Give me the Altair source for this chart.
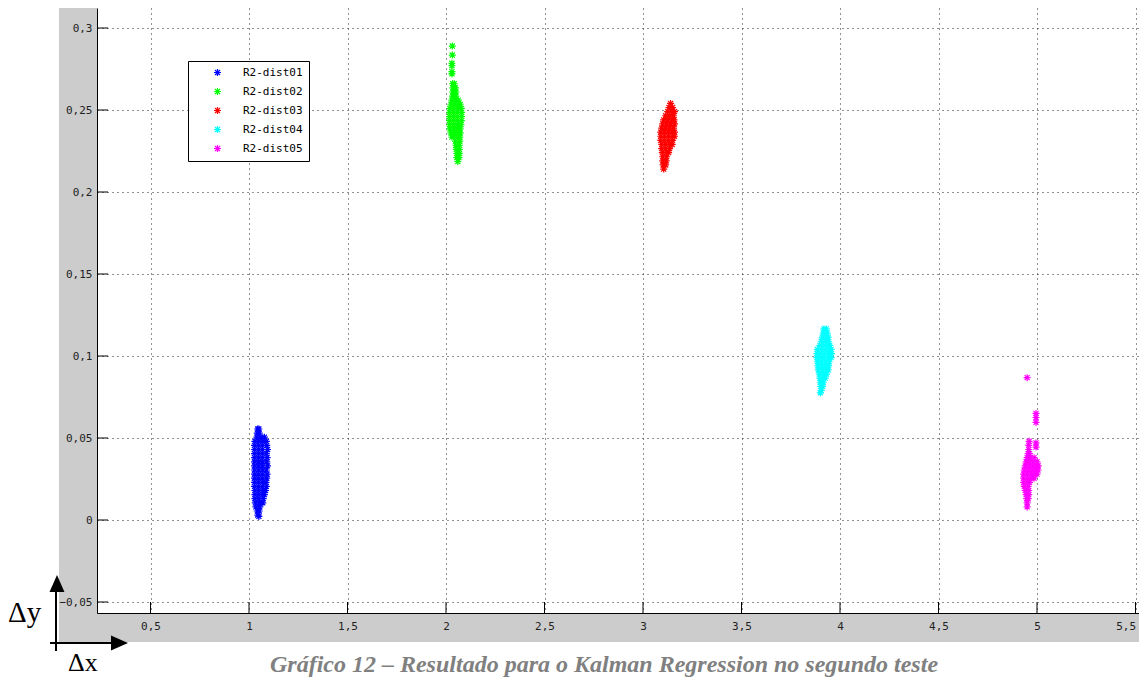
import altair as alt
import pandas as pd

SERIES = ["R2-dist01", "R2-dist02", "R2-dist03", "R2-dist04", "R2-dist05"]
COLORS = ["#0000ff", "#00ff00", "#ff0000", "#00ffff", "#ff00ff"]

X_TICKS = [0.5, 1, 1.5, 2, 2.5, 3, 3.5, 4, 4.5, 5, 5.5]
Y_TICKS = [-0.05, 0, 0.05, 0.1, 0.15, 0.2, 0.25, 0.3]

# rows of (y, [x values])
BLUE = [
    (0.0555, [1.044, 1.050]), (0.0530, [1.042, 1.052]), (0.0505, [1.040, 1.060, 1.078]),
    (0.0480, [1.030, 1.050, 1.070, 1.088]), (0.0455, [1.028, 1.048, 1.068, 1.090]),
    (0.0430, [1.028, 1.048, 1.068, 1.094]), (0.0405, [1.028, 1.048, 1.068, 1.088]),
    (0.0380, [1.028, 1.048, 1.068, 1.092]), (0.0355, [1.028, 1.048, 1.068, 1.090]),
    (0.0330, [1.028, 1.048, 1.068, 1.094]), (0.0305, [1.028, 1.048, 1.068, 1.088]),
    (0.0280, [1.028, 1.048, 1.068, 1.092]), (0.0255, [1.028, 1.048, 1.068, 1.090]),
    (0.0230, [1.028, 1.048, 1.068, 1.086]), (0.0205, [1.028, 1.048, 1.068, 1.088]),
    (0.0180, [1.030, 1.050, 1.070, 1.084]), (0.0155, [1.030, 1.050, 1.070, 1.078]),
    (0.0130, [1.030, 1.050, 1.072]), (0.0105, [1.032, 1.052, 1.070]),
    (0.0080, [1.035, 1.055]), (0.0055, [1.042, 1.052]), (0.0030, [1.045]), (0.0022, [1.050]),
]
GREEN = [
    (0.2890, [2.032]), (0.2835, [2.032]), (0.2785, [2.030]), (0.2770, [2.030]),
    (0.2734, [2.030]), (0.2720, [2.030]),
    (0.2660, [2.034, 2.042]), (0.2635, [2.035, 2.048]), (0.2610, [2.035, 2.050]),
    (0.2585, [2.033, 2.050]), (0.2560, [2.030, 2.050, 2.062]),
    (0.2535, [2.025, 2.045, 2.065, 2.072]), (0.2510, [2.020, 2.040, 2.060, 2.078]),
    (0.2485, [2.018, 2.038, 2.058, 2.079]), (0.2460, [2.018, 2.038, 2.058, 2.079]),
    (0.2435, [2.018, 2.038, 2.058, 2.078]), (0.2410, [2.018, 2.038, 2.058, 2.076]),
    (0.2385, [2.020, 2.040, 2.060, 2.072]), (0.2360, [2.025, 2.045, 2.065, 2.072]),
    (0.2335, [2.030, 2.050, 2.070]), (0.2310, [2.048, 2.070]), (0.2285, [2.050, 2.068]),
    (0.2260, [2.052, 2.068]), (0.2235, [2.055, 2.068]), (0.2210, [2.055, 2.066]),
    (0.2185, [2.060]),
]
RED = [
    (0.2540, [3.140]), (0.2515, [3.132, 3.150]), (0.2490, [3.125, 3.145, 3.160]),
    (0.2465, [3.115, 3.135, 3.155]), (0.2440, [3.105, 3.125, 3.145, 3.158]),
    (0.2415, [3.100, 3.120, 3.140, 3.160]), (0.2390, [3.095, 3.115, 3.135, 3.155]),
    (0.2365, [3.090, 3.110, 3.130, 3.150, 3.160]), (0.2340, [3.090, 3.110, 3.130, 3.150, 3.160]),
    (0.2315, [3.090, 3.110, 3.130, 3.150]), (0.2290, [3.095, 3.115, 3.135, 3.148]),
    (0.2265, [3.095, 3.115, 3.135]), (0.2240, [3.098, 3.118, 3.130]),
    (0.2215, [3.100, 3.120]), (0.2190, [3.100, 3.118]), (0.2165, [3.102, 3.115]),
    (0.2140, [3.105]),
]
CYAN = [
    (0.1165, [3.918, 3.930]), (0.1140, [3.915, 3.935]), (0.1115, [3.910, 3.930, 3.940]),
    (0.1090, [3.905, 3.925, 3.942]), (0.1065, [3.898, 3.918, 3.938, 3.948]),
    (0.1040, [3.885, 3.905, 3.925, 3.945, 3.955]), (0.1015, [3.883, 3.903, 3.923, 3.943, 3.957]),
    (0.0990, [3.883, 3.903, 3.923, 3.943, 3.955]), (0.0965, [3.885, 3.905, 3.925, 3.945]),
    (0.0940, [3.888, 3.908, 3.928, 3.942]), (0.0915, [3.890, 3.910, 3.930, 3.940]),
    (0.0890, [3.895, 3.915, 3.932]), (0.0865, [3.898, 3.915, 3.925]),
    (0.0840, [3.900, 3.915]), (0.0815, [3.902, 3.912]), (0.0790, [3.905]), (0.0775, [3.900]),
]
MAGENTA = [
    (0.0868, [4.950]), (0.0650, [4.995]), (0.0625, [4.995]), (0.0595, [4.995]),
    (0.0470, [4.995]), (0.0445, [4.995]),
    (0.0480, [4.960]), (0.0455, [4.958]), (0.0430, [4.958]), (0.0405, [4.955, 4.962]),
    (0.0380, [4.950, 4.965, 4.985]), (0.0355, [4.945, 4.962, 4.980, 5.000]),
    (0.0330, [4.940, 4.960, 4.980, 5.000, 5.006]), (0.0305, [4.935, 4.955, 4.975, 4.995, 5.005]),
    (0.0280, [4.932, 4.952, 4.972, 4.990, 5.000]), (0.0255, [4.932, 4.952, 4.970, 4.985]),
    (0.0230, [4.932, 4.950, 4.962]), (0.0205, [4.935, 4.955]), (0.0180, [4.940, 4.958]),
    (0.0155, [4.945, 4.958]), (0.0130, [4.948, 4.955]), (0.0105, [4.950]), (0.0080, [4.950]),
]

CAPTION = "Gráfico 12 – Resultado para o Kalman Regression no segundo teste"

rows = []
for name, cluster in zip(SERIES, [BLUE, GREEN, RED, CYAN, MAGENTA]):
    for yv, xs in cluster:
        for xv in xs:
            rows.append({"x": xv, "y": yv, "series": name})
df = pd.DataFrame(rows)

W, H = 1042, 605
AST = "M-1,0L1,0M0,-1L0,1M-0.72,-0.72L0.72,0.72M-0.72,0.72L0.72,-0.72"
MONO = "DejaVu Sans Mono"

xscale = alt.Scale(domain=[0.2284, 0.2284 + W / 197.0], nice=False, zero=False)
yscale = alt.Scale(domain=[-0.0567, 0.3122], nice=False, zero=False)

points = alt.Chart(df).mark_point(
    shape=AST, filled=False, size=49, strokeWidth=1.2, opacity=1
).encode(
    x=alt.X("x:Q", scale=xscale, axis=alt.Axis(
        values=X_TICKS, format=".1~f", labelExpr="replace(datum.label, '.', ',')",
        grid=True, gridDash=[1, 4], gridColor="#222222", gridWidth=1,
        ticks=False, domainColor="black", domainWidth=1, title=None,
        labelFont=MONO, labelFontSize=11, labelColor="#222222", labelPadding=7,
        labelFlush=5, labelOverlap=False)),
    y=alt.Y("y:Q", scale=yscale, axis=alt.Axis(
        values=Y_TICKS, format=".2~f", labelExpr="replace(datum.label, '.', ',')",
        grid=True, gridDash=[1, 4], gridColor="#222222", gridWidth=1,
        ticks=False, domainColor="black", domainWidth=1, title=None,
        labelFont=MONO, labelFontSize=11, labelColor="#222222", labelPadding=5,
        labelFlush=False, labelOverlap=False)),
    color=alt.Color("series:N", scale=alt.Scale(domain=SERIES, range=COLORS), legend=alt.Legend(
        orient="none", legendX=91, legendY=53, title=None, symbolType=AST, symbolSize=49,
        symbolStrokeWidth=1.2, labelFont=MONO, labelFontSize=11, labelColor="black",
        padding=6, strokeColor="black", fillColor="white", symbolOffset=18, labelOffset=20,
        rowPadding=6)),
)

ytick_df = pd.DataFrame({"y": Y_TICKS})
xtick_df = pd.DataFrame({"x": X_TICKS})
yticks = alt.Chart(ytick_df).mark_rule(color="black", strokeWidth=1).encode(
    y=alt.Y("y:Q", scale=yscale), x=alt.value(0), x2=alt.value(11))
xticks = alt.Chart(xtick_df).mark_rule(color="black", strokeWidth=1).encode(
    x=alt.X("x:Q", scale=xscale), y=alt.value(H), y2=alt.value(H - 11))

one = alt.Data(values=[{"a": 1}])
white_left = alt.Chart(one).mark_rect(color="white").encode(
    x=alt.value(-89), x2=alt.value(-38), y=alt.value(0), y2=alt.value(634))
white_bottom = alt.Chart(one).mark_rect(color="white").encode(
    x=alt.value(-89), x2=alt.value(W), y=alt.value(634), y2=alt.value(680))

caption = alt.Chart(one).mark_text(
    font="Liberation Serif", fontStyle="italic", fontWeight="bold", fontSize=24,
    color="#808080", align="center", baseline="alphabetic"
).encode(x=alt.value(507), y=alt.value(664), text=alt.value(CAPTION))

dy_text = alt.Chart(one).mark_text(
    font="Liberation Serif", fontSize=29, color="black", align="left", baseline="alphabetic"
).encode(x=alt.value(-89), y=alt.value(614), text=alt.value("Δy"))
dx_text = alt.Chart(one).mark_text(
    font="Liberation Serif", fontSize=26, color="black", align="left", baseline="alphabetic"
).encode(x=alt.value(-29), y=alt.value(663), text=alt.value("Δx"))

v_line = alt.Chart(one).mark_rule(color="black", strokeWidth=2).encode(
    x=alt.value(-41), y=alt.value(582), y2=alt.value(643))
h_line = alt.Chart(one).mark_rule(color="black", strokeWidth=2).encode(
    x=alt.value(-47), x2=alt.value(16), y=alt.value(635))
up_head = alt.Chart(one).mark_point(
    shape="M0,-1L0.88,1L-0.88,1Z", filled=True, size=289, color="black", opacity=1
).encode(x=alt.value(-40), y=alt.value(575.5))
right_head = alt.Chart(one).mark_point(
    shape="M1,0L-1,-0.88L-1,0.88Z", filled=True, size=289, color="black", opacity=1
).encode(x=alt.value(22.5), y=alt.value(635))

chart = alt.layer(
    points, yticks, xticks, white_left, white_bottom, caption,
    dy_text, dx_text, v_line, h_line, up_head, right_head
).properties(
    width=W, height=H,
    autosize=alt.AutoSizeParams(type="none"),
    padding={"left": 89, "top": 0, "right": 0, "bottom": 65},
    background="#cccccc",
).configure_view(fill="white", strokeWidth=0)

chart.save("out.html", embed_options={"renderer": "svg", "actions": False})
